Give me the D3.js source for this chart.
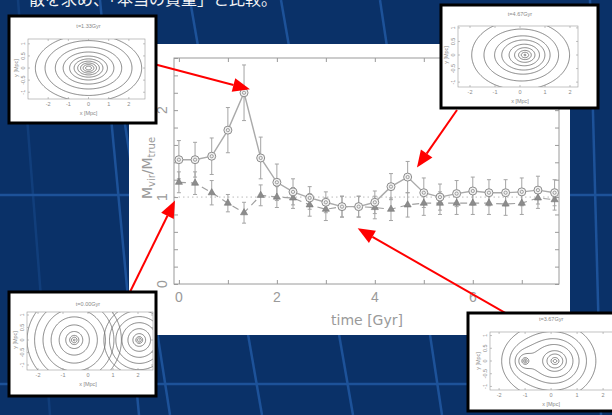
<!DOCTYPE html>
<html>
<head>
<meta charset="utf-8">
<script src="https://cdn.jsdelivr.net/npm/d3@7"></script>
<style>
  body { margin: 0; background: #0a3168; }
  svg { display: block; }
</style>
</head>
<body>
<svg></svg>
<script>
// main panel data
const times      = [0, 0.33, 0.67, 1, 1.33, 1.67, 2, 2.33, 2.67, 3, 3.33, 3.67, 4, 4.33, 4.67, 5, 5.33, 5.67, 6, 6.33, 6.67, 7, 7.33, 7.67];
const circleVals = [1.43, 1.43, 1.47, 1.77, 2.2, 1.45, 1.17, 1.06, 0.99, 0.94, 0.89, 0.89, 0.94, 1.12, 1.23, 1.05, 1.0, 1.04, 1.07, 1.05, 1.05, 1.06, 1.08, 1.05];
const circleErr  = [0.22, 0.2, 0.21, 0.26, 0.32, 0.24, 0.21, 0.15, 0.13, 0.12, 0.12, 0.12, 0.13, 0.15, 0.18, 0.17, 0.15, 0.15, 0.16, 0.15, 0.15, 0.16, 0.16, 0.15];
const triVals    = [1.17, 1.16, 1.05, 0.93, 0.82, 1.02, 1.0, 0.99, 0.91, 0.86, 0.89, 0.89, 0.88, 0.86, 0.91, 0.93, 0.93, 0.93, 0.93, 0.93, 0.92, 0.93, 0.99, 0.97];
const triErr     = [0.12, 0.13, 0.14, 0.1, 0.12, 0.12, 0.12, 0.12, 0.13, 0.13, 0.12, 0.12, 0.13, 0.13, 0.14, 0.14, 0.13, 0.13, 0.13, 0.13, 0.13, 0.13, 0.12, 0.12];
const xTickLabels = [0, 2, 4, 6];
const yTickLabels = [0, 1, 2];

// inset snapshots: titles, mass clumps (x, y in Mpc) and contour levels
const insetTitles = ["t=1.33Gyr", "t=4.67Gyr", "t=0.00Gyr", "t=3.67Gyr"];
const insetClumps = [
  [{x: 0, y: 0, m: 1, a: 0.08, q: 1.9}],
  [{x: 0.2, y: 0, m: 1, a: 0.08, q: 1.5}, {x: -0.7, y: 0, m: 0.35, a: 0.7, q: 1.3}],
  [{x: -0.55, y: 0, m: 1, a: 0.06, q: 1}, {x: 2.05, y: 0, m: 0.75, a: 0.05, q: 1}],
  [{x: 0.15, y: 0, m: 1, a: 0.08, q: 1.1}, {x: -1.0, y: 0, m: 0.22, a: 0.03, q: 1}]
];
const insetLevels = [
  [9, 6.2, 4.5, 3.4, 2.6, 2.0, 1.5, 1.15, 0.88, 0.72],
  [12, 8.2, 5.7, 3.9, 2.8, 2.1, 1.7, 1.3, 1.0],
  [14, 8, 5.2, 2.9, 1.65, 1.08, 0.8, 0.63, 0.53],
  [14, 10, 6.5, 3.7, 2.6, 1.7, 1.29, 1.0, 0.78]
];
const insetMerged = [true, true, false, true];
// arrow tips in chart units [time, ratio]
const arrowTips = [[1.45, 2.24], [4.86, 1.34], [-0.08, 0.96], [3.65, 0.64]];

const svg = d3.select("svg").attr("width", 612).attr("height", 415);
const W = 612, H = 415;

// slide background
svg.append("rect").attr("width", W).attr("height", H).attr("fill", "#0a3168");
const bgLines = [
  [18, 0, 50, 415, 0.4], [100, 0, 139, 415, 1], [115, 60, 170, 415, 1],
  [190, 0, 262, 415, 1], [281, 0, 353, 415, 1], [380, 0, 442, 415, 1],
  [590, 0, 601, 415, 1], [0, 195, 612, 195, 1], [0, 384, 612, 384, 1]
];
svg.append("g").selectAll("line").data(bgLines).enter().append("line")
  .attr("x1", d => d[0]).attr("y1", d => d[1]).attr("x2", d => d[2]).attr("y2", d => d[3])
  .attr("stroke", "#1d5299").attr("stroke-width", 2.5).attr("opacity", d => d[4]);

// title line (top half cut off by the crop)
svg.append("text").attr("x", 29).attr("y", 5)
  .attr("font-family", "'Noto Sans CJK JP', sans-serif").attr("font-size", 16)
  .attr("fill", "#f4f4f4").text("散を求め、「本当の質量」と比較。");

// white chart panel
svg.append("rect").attr("x", 129).attr("y", 44).attr("width", 441).attr("height", 291).attr("fill", "#fff");

const x = d3.scaleLinear().domain([-0.1, 7.76]).range([174, 559]);
const y = d3.scaleLinear().domain([0, 2.6]).range([284, 58]);
const grey = "#9a9a9a";

const plot = svg.append("g").attr("class", "plot");

// dotted unity line
plot.append("line").attr("x1", x.range()[0]).attr("x2", x.range()[1])
  .attr("y1", y(1)).attr("y2", y(1))
  .attr("stroke", "#bbb").attr("stroke-dasharray", "1.5,3");

// ticks on all four sides
const xt = d3.range(0, 8), yt = d3.range(0, 2.61, 0.2);
plot.append("g").attr("transform", `translate(0,${y(0)})`)
  .call(d3.axisBottom(x).tickValues(xt).tickSize(-4).tickFormat(""));
plot.append("g").attr("transform", `translate(0,${y(2.6)})`)
  .call(d3.axisTop(x).tickValues(xt).tickSize(-4).tickFormat(""));
plot.append("g").attr("transform", `translate(${x(-0.1)},0)`)
  .call(d3.axisLeft(y).tickValues(yt).tickSize(-4).tickFormat(""));
plot.append("g").attr("transform", `translate(${x(7.76)},0)`)
  .call(d3.axisRight(y).tickValues(yt).tickSize(-4).tickFormat(""));
plot.selectAll(".domain").remove();
plot.selectAll(".tick line").attr("stroke", grey);
plot.append("rect").attr("x", x(-0.1)).attr("y", y(2.6))
  .attr("width", x(7.76) - x(-0.1)).attr("height", y(0) - y(2.6))
  .attr("fill", "none").attr("stroke", grey);

plot.selectAll(".xl").data(xTickLabels).enter().append("text")
  .attr("x", d => x(d)).attr("y", 302).attr("text-anchor", "middle")
  .attr("font-family", "'Liberation Sans', sans-serif").attr("font-size", 14)
  .attr("fill", grey).text(d => d);
plot.selectAll(".yl").data(yTickLabels).enter().append("text")
  .attr("transform", d => `translate(167,${y(d)}) rotate(-90)`)
  .attr("text-anchor", "middle")
  .attr("font-family", "'Liberation Sans', sans-serif").attr("font-size", 14)
  .attr("fill", grey).text(d => d);

plot.append("text").attr("x", 367).attr("y", 325).attr("text-anchor", "middle")
  .attr("font-family", "'DejaVu Sans', sans-serif").attr("font-size", 14)
  .attr("fill", grey).text("time [Gyr]");
const yTitle = plot.append("text").attr("transform", "translate(152,168) rotate(-90)")
  .attr("text-anchor", "middle")
  .attr("font-family", "'DejaVu Sans', sans-serif").attr("font-size", 14).attr("fill", grey);
yTitle.append("tspan").text("M");
yTitle.append("tspan").attr("font-size", 10).attr("dy", 3).text("vir");
yTitle.append("tspan").attr("dy", -3).text("/M");
yTitle.append("tspan").attr("font-size", 10).attr("dy", 3).text("true");

const circleData = times.map((t, i) => ({t: t, v: circleVals[i], e: circleErr[i]}));
const triData = times.map((t, i) => ({t: t, v: triVals[i], e: triErr[i]}));
const line = d3.line().x(d => x(d.t)).y(d => y(d.v));

function errorBars(data) {
  const g = plot.append("g");
  const bars = g.selectAll("g").data(data).enter().append("g").attr("stroke", "#a4a4a4");
  bars.append("line").attr("x1", d => x(d.t)).attr("x2", d => x(d.t))
    .attr("y1", d => y(d.v - d.e)).attr("y2", d => y(d.v + d.e));
  bars.append("line").attr("x1", d => x(d.t) - 2).attr("x2", d => x(d.t) + 2)
    .attr("y1", d => y(d.v - d.e)).attr("y2", d => y(d.v - d.e));
  bars.append("line").attr("x1", d => x(d.t) - 2).attr("x2", d => x(d.t) + 2)
    .attr("y1", d => y(d.v + d.e)).attr("y2", d => y(d.v + d.e));
}
errorBars(triData);
errorBars(circleData);

plot.append("path").datum(triData).attr("d", line)
  .attr("fill", "none").attr("stroke", "#a0a0a0").attr("stroke-width", 1.2).attr("stroke-dasharray", "7,5");
plot.append("path").datum(circleData).attr("d", line)
  .attr("fill", "none").attr("stroke", "#aaa").attr("stroke-width", 1.4);

plot.selectAll(".tri").data(triData).enter().append("path")
  .attr("transform", d => `translate(${x(d.t)},${y(d.v)})`)
  .attr("d", d3.symbol(d3.symbolTriangle).size(22))
  .attr("fill", "#8c8c8c").attr("stroke", "#777").attr("stroke-width", 0.6);
const circ = plot.selectAll(".circ").data(circleData).enter().append("g")
  .attr("transform", d => `translate(${x(d.t)},${y(d.v)})`);
circ.append("circle").attr("r", 4).attr("fill", "#f2f2f2").attr("stroke", "#8c8c8c").attr("stroke-width", 1);
circ.append("circle").attr("r", 1.6).attr("fill", "none").attr("stroke", "#8c8c8c").attr("stroke-width", 0.8);

// red arrows, tails hidden under the insets
const arrowTails = [[150, 63], [457, 110], [128, 296], [514, 318]];
const arrows = svg.append("g").attr("class", "arrows");
arrowTips.forEach((tip, i) => {
  const tx = x(tip[0]), ty = y(tip[1]);
  const [sx, sy] = arrowTails[i];
  const ang = Math.atan2(ty - sy, tx - sx);
  const L = 17, hw = 7;
  const bx = tx - L * Math.cos(ang), by = ty - L * Math.sin(ang);
  arrows.append("line").attr("x1", sx).attr("y1", sy).attr("x2", bx).attr("y2", by)
    .attr("stroke", "#f00").attr("stroke-width", 2);
  arrows.append("path")
    .attr("d", `M${tx},${ty}L${bx + hw * Math.sin(ang)},${by - hw * Math.cos(ang)}L${bx - hw * Math.sin(ang)},${by + hw * Math.cos(ang)}Z`)
    .attr("fill", "#f00");
});

// inset contour maps
const insetBoxes = [[9, 16, 147, 107], [441, 5, 157, 103], [9, 292, 147, 104], [468, 313, 150, 98]];
const insetFrames = [[28, 39, 145, 99], [458, 26, 578, 87], [27, 312, 153, 370], [490, 332, 620, 390]];
const insetTitleY = [28, 16, 306, 321];
const insetXDom = [[-3.0, 2.8], [-2.48, 2.32], [-2.44, 2.6], [-2.35, 2.65]];
const insetYDom = [[-1.28, 1.2], [-1.18, 1.07], [-1.2, 1.12], [-1.14, 1.14]];

function field(clumps, px, py) {
  let v = 0;
  clumps.forEach(c => {
    const dx = (px - c.x) / c.q, dy = py - c.y;
    v += c.m / Math.sqrt(dx * dx + dy * dy + c.a * c.a);
  });
  return v;
}

insetTitles.forEach((title, k) => {
  const [bx, by, bw, bh] = insetBoxes[k];
  const [fx0, fy0, fx1, fy1] = insetFrames[k];
  const g = svg.append("g").attr("class", "inset");
  g.append("rect").attr("x", bx).attr("y", by).attr("width", bw).attr("height", bh)
    .attr("fill", "#fff").attr("stroke", "#000").attr("stroke-width", 3);

  const xs = d3.scaleLinear().domain(insetXDom[k]).range([fx0, fx1]);
  const ys = d3.scaleLinear().domain(insetYDom[k]).range([fy1, fy0]);

  g.append("clipPath").attr("id", "clip" + k).append("rect")
    .attr("x", fx0).attr("y", fy0).attr("width", fx1 - fx0).attr("height", fy1 - fy0);

  // sample the field on a grid a bit larger than the frame
  const n = 160, m = 90;
  const gx0 = insetXDom[k][0] - 0.3, gx1 = insetXDom[k][1] + 0.3;
  const gy0 = insetYDom[k][1] + 0.3, gy1 = insetYDom[k][0] - 0.3;
  const dx = (gx1 - gx0) / (n - 1), dy = (gy0 - gy1) / (m - 1);
  const proj = d3.geoTransform({
    point: function(px, py) {
      this.stream.point(xs(gx0 + (px - 0.5) * dx), ys(gy0 - (py - 0.5) * dy));
    }
  });
  const path = d3.geoPath(proj);
  const groups = insetMerged[k] ? [insetClumps[k]] : insetClumps[k].map(c => [c]);
  const cg = g.append("g").attr("clip-path", `url(#clip${k})`);
  groups.forEach(clumps => {
    const values = new Array(n * m);
    for (let j = 0; j < m; j++) {
      for (let i = 0; i < n; i++) {
        values[i + j * n] = field(clumps, gx0 + i * dx, gy0 - j * dy);
      }
    }
    const cs = d3.contours().size([n, m]).thresholds(insetLevels[k])(values);
    cg.selectAll(null).data(cs).enter().append("path")
      .attr("d", path).attr("fill", "none")
      .attr("stroke", "#6e6e6e").attr("stroke-width", 0.85);
  });

  // frame, ticks and labels
  const ig = g.append("g").attr("stroke", "#999").attr("stroke-width", 0.6);
  ig.append("rect").attr("x", fx0).attr("y", fy0).attr("width", fx1 - fx0).attr("height", fy1 - fy0)
    .attr("fill", "none");
  const ixt = [-2, -1, 0, 1, 2], iyt = [-1, -0.5, 0, 0.5, 1];
  ixt.forEach(v => {
    ig.append("line").attr("x1", xs(v)).attr("x2", xs(v)).attr("y1", fy1).attr("y2", fy1 - 2);
    ig.append("line").attr("x1", xs(v)).attr("x2", xs(v)).attr("y1", fy0).attr("y2", fy0 + 2);
  });
  iyt.forEach(v => {
    ig.append("line").attr("x1", fx0).attr("x2", fx0 + 2).attr("y1", ys(v)).attr("y2", ys(v));
    ig.append("line").attr("x1", fx1).attr("x2", fx1 - 2).attr("y1", ys(v)).attr("y2", ys(v));
  });
  const tg = g.append("g").attr("font-family", "'Liberation Sans', sans-serif")
    .attr("font-size", 5.5).attr("fill", "#888").attr("text-anchor", "middle");
  ixt.forEach(v => {
    tg.append("text").attr("x", xs(v)).attr("y", fy1 + 7).text(v);
  });
  iyt.forEach(v => {
    tg.append("text").attr("transform", `translate(${fx0 - 3},${ys(v)}) rotate(-90)`).text(v);
  });
  tg.append("text").attr("x", xs(0)).attr("y", fy1 + 16).text("x [Mpc]");
  tg.append("text").attr("transform", `translate(${fx0 - 10},${ys(0)}) rotate(-90)`).text("y [Mpc]");
  tg.append("text").attr("x", xs(0)).attr("y", insetTitleY[k]).text(title);
});
</script>
</body>
</html>
